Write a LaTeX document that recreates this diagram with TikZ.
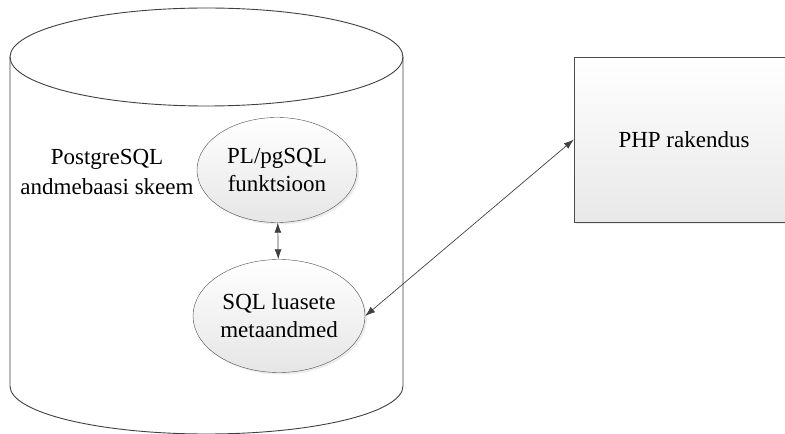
\documentclass[tikz,border=0pt]{standalone}
\usepackage{fontspec}
\setmainfont{Liberation Serif}
\usetikzlibrary{shapes.geometric,shadows,arrows.meta}

\begin{document}
\begin{tikzpicture}[x=1pt, y=1pt,
    db/.style={draw=black!75, line width=0.9pt},
    blob/.style={ellipse, draw=black!70, top color=white, bottom color=black!10, drop shadow={shadow xshift=2pt, shadow yshift=-2pt, fill=black!15}, align=center, inner sep=0pt, font=\fontsize{23}{28}\selectfont},
    app/.style={rectangle, draw=black!70, top color=white, bottom color=black!9, drop shadow={shadow xshift=2pt, shadow yshift=-2pt, fill=black!15}, align=center, font=\fontsize{23}{28}\selectfont},
    lbl/.style={align=center, inner sep=0pt, font=\fontsize{23}{29}\selectfont},
    a/.style={{Latex[length=10pt,width=7pt]}-{Latex[length=10pt,width=7pt]}, black!75, line width=0.7pt}
]
    \useasboundingbox (0,0) rectangle (785,434);
    % andmebaas
    \draw[db] (206.5,377) ellipse [x radius=196.5, y radius=49];
    \draw[db] (10,377) -- (10,48) arc[start angle=180, end angle=360, x radius=196.5, y radius=48] -- (403,377);
    \node[lbl] (schema) at (107,262) {PostgreSQL\\andmebaasi skeem};
    \node[blob, minimum width=160, minimum height=105] (fn)   at (277,264) {PL/pgSQL\\funktsioon};
    \node[blob, minimum width=172, minimum height=113] (meta) at (279,118) {SQL luasete\\metaandmed};
    % rakendus
    \node[app, minimum width=220, minimum height=165] (php) at (684,294.5) {PHP rakendus};
    \draw[a] (fn) -- (meta);
    \draw[a] (meta.east) -- (php.west);
\end{tikzpicture}
\end{document}
